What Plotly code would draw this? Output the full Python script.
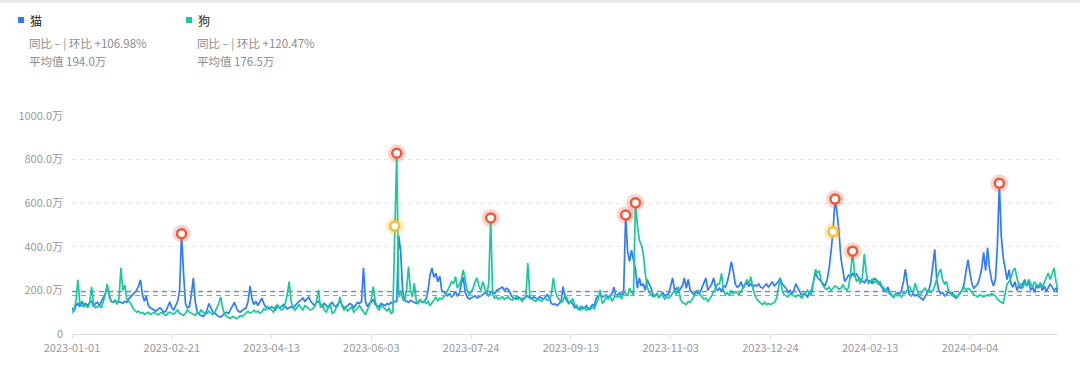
import datetime as dt
import plotly.graph_objects as go

# ---------------- data (units: 万) ----------------
start_date = "2023-01-01"
cat_values = [
    120, 105, 130, 140, 125, 150, 135, 140, 130, 145,
    150, 125, 140, 145, 130, 150, 165, 185, 215, 175,
    150, 145, 155, 140, 150, 145, 140, 150, 145, 160,
    170, 180, 185, 200, 220, 248, 180, 150, 174, 130,
    120, 115, 110, 105, 115, 120, 110, 100, 105, 130,
    148, 120, 110, 130, 150, 200, 460, 280, 140, 120,
    125, 180, 256, 150, 100, 90, 85, 80, 90, 110,
    140, 120, 100, 95, 85, 80, 78, 85, 90, 100,
    95, 110, 130, 145, 120, 105, 100, 110, 115, 120,
    150, 220, 160, 135, 150, 130, 145, 165, 140, 125,
    120, 115, 125, 120, 110, 130, 120, 125, 135, 125,
    115, 120, 125, 120, 130, 145, 150, 155, 165, 150,
    160, 170, 150, 140, 130, 145, 150, 135, 125, 140,
    130, 120, 135, 145, 130, 125, 140, 150, 135, 120,
    125, 130, 140, 135, 120, 130, 145, 140, 150, 304,
    150, 125, 140, 145, 160, 135, 130, 125, 140, 135,
    130, 140, 135, 145, 140, 150, 150, 450, 380, 200,
    155, 150, 145, 155, 150, 145, 140, 150, 155, 145,
    150, 160, 200, 270, 303, 260, 278, 240, 265, 200,
    190, 180, 175, 185, 170, 180, 195, 175, 185, 230,
    260, 190, 170, 160, 165, 170, 175, 165, 170, 175,
    180, 190, 185, 175, 190, 195, 185, 200, 205, 210,
    215, 200, 210, 205, 190, 170, 165, 160, 170, 165,
    160, 165, 170, 175, 165, 160, 170, 165, 160, 170,
    165, 160, 170, 180, 165, 140, 135, 138, 130, 140,
    150, 217, 170, 150, 140, 150, 135, 120, 130, 110,
    125, 115, 120, 130, 110, 125, 135, 130, 165, 175,
    180, 170, 175, 180, 170, 175, 185, 215, 170, 180,
    190, 175, 200, 546, 380, 332, 385, 340, 300, 210,
    257, 220, 230, 200, 250, 230, 210, 180, 175, 185,
    170, 180, 190, 175, 180, 185, 220, 257, 200, 210,
    195, 205, 220, 257, 210, 250, 200, 190, 180, 195,
    185, 190, 210, 230, 257, 200, 215, 230, 257, 210,
    200, 210, 195, 220, 215, 240, 280, 332, 290, 230,
    215, 220, 240, 210, 225, 235, 220, 230, 215, 225,
    220, 230, 215, 210, 220, 230, 215, 225, 240, 220,
    230, 240, 257, 230, 220, 210, 190, 200, 185, 200,
    230, 210, 190, 175, 185, 180, 170, 190, 200, 240,
    280, 260, 250, 245, 235, 220, 250, 300, 380, 469,
    619, 560, 477, 350, 294, 240, 255, 270, 260, 280,
    265, 275, 260, 250, 245, 235, 250, 240, 245, 230,
    255, 250, 240, 225, 210, 200, 195, 215, 190, 180,
    168, 180, 190, 185, 200, 240, 297, 230, 180, 175,
    185, 175, 180, 170, 165, 156, 170, 185, 200, 240,
    330, 388, 250, 200, 185, 190, 175, 180, 195, 185,
    190, 170, 165, 180, 190, 200, 230, 290, 340, 280,
    230, 210, 220, 230, 260, 300, 375, 290, 395, 300,
    250, 220, 250, 400, 691, 450, 350, 294, 250, 295,
    230, 215, 240, 200, 220, 210, 230, 250, 220, 240,
    200, 215, 190, 225, 210, 230, 200, 220, 195, 210,
    230, 215, 200, 210, 190,
]
dog_values = [
    95, 110, 150, 248, 140, 130, 125, 135, 120, 140,
    216, 140, 120, 125, 130, 120, 150, 180, 230, 170,
    150, 145, 150, 140, 160, 302, 200, 225, 160, 150,
    140, 120, 110, 100, 105, 95, 100, 90, 95, 100,
    90, 95, 100, 92, 88, 95, 100, 90, 85, 95,
    100, 95, 90, 100, 110, 95, 90, 85, 95, 110,
    100, 95, 90, 85, 100, 95, 110, 100, 90, 95,
    105, 95, 90, 100, 120, 140, 170, 120, 90, 80,
    75, 72, 80, 78, 70, 75, 85, 80, 90, 100,
    105, 95, 100, 110, 100, 105, 95, 100, 115, 110,
    125, 120, 110, 100, 125, 135, 120, 110, 115, 140,
    180, 240, 150, 120, 110, 125, 135, 120, 110, 130,
    125, 115, 110, 115, 125, 150, 202, 120, 140, 110,
    100, 125, 140, 95, 100, 120, 130, 170, 130, 110,
    120, 105, 115, 125, 100, 110, 120, 130, 115, 100,
    88, 110, 130, 160, 217, 150, 120, 110, 130, 125,
    115, 105, 120, 95, 100, 495, 829, 170, 200, 160,
    150, 200, 309, 200, 170, 233, 150, 140, 160, 145,
    150, 140, 150, 130, 145, 160, 170, 150, 165, 160,
    170, 180, 200, 220, 240, 230, 263, 210, 230, 250,
    294, 250, 200, 180, 190, 210, 240, 257, 220, 200,
    240, 210, 180, 230, 532, 180, 165, 170, 160, 165,
    170, 160, 165, 170, 160, 155, 165, 170, 160, 165,
    150, 160, 170, 325, 180, 160, 155, 150, 160, 155,
    150, 160, 165, 155, 160, 180, 257, 200, 170, 160,
    145, 150, 180, 165, 140, 150, 160, 135, 120, 115,
    110, 125, 118, 110, 120, 112, 125, 115, 140, 160,
    202, 140, 150, 170, 160, 175, 150, 165, 180, 170,
    175, 160, 190, 185, 175, 210, 190, 180, 602, 500,
    430, 410, 370, 280, 217, 190, 180, 170, 175, 185,
    165, 180, 175, 160, 170, 165, 175, 190, 200, 180,
    217, 160, 145, 140, 135, 150, 145, 160, 175, 190,
    202, 180, 170, 160, 165, 150, 160, 175, 190, 210,
    230, 230, 278, 200, 180, 190, 175, 200, 185, 195,
    190, 180, 195, 210, 230, 250, 230, 263, 210, 180,
    160, 150, 140, 135, 145, 135, 140, 135, 140, 145,
    160, 200, 255, 200, 180, 175, 170, 185, 180, 175,
    170, 180, 175, 165, 180, 190, 200, 185, 180, 230,
    296, 280, 290, 240, 220, 210, 205, 215, 200, 210,
    220, 215, 205, 210, 225, 210, 200, 215, 280, 380,
    280, 240, 255, 230, 260, 367, 280, 230, 240, 250,
    235, 245, 230, 240, 220, 210, 200, 190, 180, 175,
    170, 185, 175, 180, 170, 190, 185, 200, 220, 200,
    190, 233, 200, 180, 185, 200, 210, 195, 205, 190,
    200, 220, 250, 280, 297, 250, 230, 240, 200, 185,
    175, 180, 170, 175, 185, 200, 215, 200, 210, 205,
    190, 180, 175, 170, 180, 175, 170, 175, 180, 175,
    185, 180, 175, 160, 150, 145, 141, 190, 230, 240,
    260, 290, 303, 260, 220, 230, 210, 240, 220, 250,
    230, 215, 240, 225, 220, 235, 215, 240, 260, 280,
    250, 280, 303, 240, 200,
]
cat_avg = 194.0
dog_avg = 176.5
cat_name, dog_name = "猫", "狗"
cat_stats = ["同比 – | 环比 +106.98%", "平均值 194.0万"]
dog_stats = ["同比 – | 环比 +120.47%", "平均值 176.5万"]

cat_red_marks = ["2023-02-26", "2023-10-11", "2024-01-26", "2024-04-19"]
dog_red_marks = ["2023-06-16", "2023-08-03", "2023-10-16", "2024-02-04"]
cat_yellow_marks = ["2024-01-25"]
dog_yellow_marks = ["2023-06-15"]

x_tick_labels = ["2023-01-01", "2023-02-21", "2023-04-13", "2023-06-03", "2023-07-24",
                 "2023-09-13", "2023-11-03", "2023-12-24", "2024-02-13", "2024-04-04"]
y_tick_vals = [0, 200, 400, 600, 800, 1000]
y_tick_text = ["0", "200.0万", "400.0万", "600.0万", "800.0万", "1000.0万"]

# ---------------- build ----------------
CAT_C = "#2f7cf6"
DOG_C = "#19c89b"
d0 = dt.date.fromisoformat(start_date)
n = len(cat_values)
dates = [(d0 + dt.timedelta(days=i)).isoformat() for i in range(n)]
idx = {d: i for i, d in enumerate(dates)}

fig = go.Figure()
fig.add_trace(go.Scatter(x=dates, y=cat_values, mode="lines", name=cat_name,
                         line=dict(color=CAT_C, width=1.7), hoverinfo="x+y"))
fig.add_trace(go.Scatter(x=dates, y=dog_values[:n], mode="lines", name=dog_name,
                         line=dict(color=DOG_C, width=1.7), hoverinfo="x+y"))

# average reference lines (dashed, series colour)
for avg, col in [(cat_avg, "#4a8df7"), (dog_avg, "#3fcfa8")]:
    fig.add_trace(go.Scatter(x=[dates[0], dates[-1]], y=[avg, avg], mode="lines",
                             showlegend=False, hoverinfo="skip",
                             line=dict(color=col, width=1.2, dash="5px,4px")))


def add_marks(marks, series, glow, ring):
    xs = [m for m in marks]
    ys = [series[idx[m]] for m in marks]
    fig.add_trace(go.Scatter(x=xs, y=ys, mode="markers", showlegend=False, hoverinfo="skip",
                             marker=dict(size=18, color=glow, line=dict(width=0))))
    fig.add_trace(go.Scatter(x=xs, y=ys, mode="markers", showlegend=False, hoverinfo="skip",
                             marker=dict(size=9, color="white", line=dict(color=ring, width=2.5))))


add_marks(cat_red_marks, cat_values, "rgba(245,90,60,0.25)", "#f4563c")
add_marks(dog_red_marks, dog_values, "rgba(245,90,60,0.25)", "#f4563c")
add_marks(cat_yellow_marks, cat_values, "rgba(250,185,40,0.28)", "#f7bd3a")
add_marks(dog_yellow_marks, dog_values, "rgba(250,185,40,0.28)", "#f7bd3a")

L, R, T, B = 72, 22, 116, 41
W, H = 1080, 375
pw = W - L - R
ph = H - T - B


def px_x(p):
    return (p - L) / pw


def px_y(p):
    return 1 - (p - T) / ph


shapes = []
# thin grey band at the very top of the card
shapes.append(dict(type="line", xref="paper", yref="paper", x0=px_x(0), x1=px_x(W),
                   y0=px_y(1.5), y1=px_y(1.5), line=dict(color="#ececec", width=3)))

annotations = []
for x0, name, col, stats in [(18, cat_name, CAT_C, cat_stats), (186, dog_name, DOG_C, dog_stats)]:
    shapes.append(dict(type="rect", xref="paper", yref="paper",
                       x0=px_x(x0), x1=px_x(x0 + 6), y0=px_y(17), y1=px_y(23),
                       fillcolor=col, line=dict(width=0)))
    annotations.append(dict(xref="paper", yref="paper", x=px_x(x0 + 10), y=px_y(20),
                            xanchor="left", yanchor="middle", showarrow=False, text=name,
                            font=dict(size=12, color="#222")))
    for k, s in enumerate(stats):
        annotations.append(dict(xref="paper", yref="paper", x=px_x(x0 + 9), y=px_y(43 + 18 * k),
                                xanchor="left", yanchor="middle", showarrow=False, text=s,
                                font=dict(size=11.5, color="#8c8c8c")))

fig.update_layout(
    width=W, height=H,
    margin=dict(l=L, r=R, t=T, b=B),
    paper_bgcolor="white", plot_bgcolor="white",
    showlegend=False,
    font=dict(family="Noto Sans CJK SC, Noto Sans, sans-serif", color="#999"),
    shapes=shapes, annotations=annotations,
    xaxis=dict(type="date", range=[dates[0], dates[-1]], tickvals=x_tick_labels, ticktext=x_tick_labels,
               showgrid=False, zeroline=False, showline=True, linecolor="#dcdfe6", linewidth=1,
               ticks="outside", ticklen=4, tickcolor="#dcdfe6",
               tickfont=dict(size=11, color="#999"), fixedrange=True),
    yaxis=dict(range=[0, 1000], tickvals=y_tick_vals, ticktext=y_tick_text,
               showgrid=True, gridcolor="#e6e6e6", griddash="4px,4px", gridwidth=1,
               zeroline=False, showline=False, ticks="", ticklabelstandoff=8,
               tickfont=dict(size=11, color="#999"), fixedrange=True),
)

fig.write_html("out.html", config={"displayModeBar": False},
               post_script="document.body.style.margin='0';document.body.style.overflow='hidden';")
